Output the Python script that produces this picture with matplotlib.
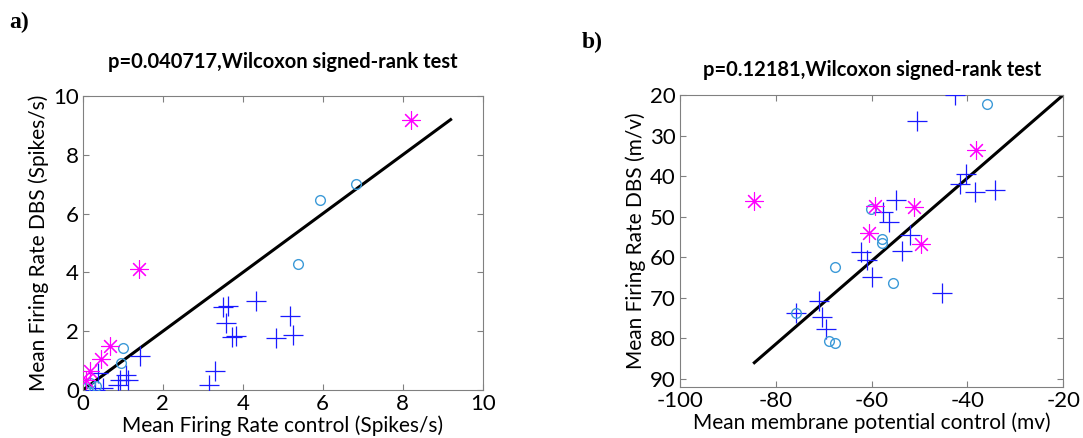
import matplotlib.pyplot as plt

plt.rcParams['font.family'] = ['Lato', 'DejaVu Sans']
plt.rcParams['axes.unicode_minus'] = False

# panel a: mean firing rate, control vs DBS (Spikes/s)
a_star_x = [8.2, 1.4, 0.68, 0.46, 0.17, 0.08]
a_star_y = [9.2, 4.12, 1.5, 1.04, 0.66, 0.34]
a_circ_x = [6.84, 5.93, 5.37, 1.0, 0.94, 0.17, 0.33, 0.04]
a_circ_y = [7.02, 6.45, 4.3, 1.42, 0.93, 0.23, 0.14, 0.08]
a_plus_x = [4.33, 3.51, 3.63, 5.19, 3.58, 3.72, 3.84, 4.84, 5.26, 1.42, 3.3, 3.16,
            0.37, 1.08, 1.12, 0.92, 0.87, 0.5, 0.29]
a_plus_y = [3.03, 2.84, 2.86, 2.53, 2.27, 1.79, 1.85, 1.76, 1.86, 1.16, 0.65, 0.17,
            0.57, 0.51, 0.34, 0.34, 0.17, 0.06, 0.0]
a_fit_x = [0, 9.2]
a_fit_y = [0, 9.2]

# panel b: mean membrane potential, control vs DBS
b_star_x = [-84.5, -59.3, -51.1, -60.6, -49.6, -38.2]
b_star_y = [46.1, 47.4, 47.6, 54.0, 56.8, 33.5]
b_circ_x = [-35.9, -60.2, -57.9, -57.9, -67.7, -55.6, -75.7, -68.9, -67.7]
b_circ_y = [22.1, 48.0, 55.6, 56.4, 62.5, 66.4, 73.8, 80.6, 81.1]
b_plus_x = [-42.6, -50.6, -40.2, -41.6, -38.4, -34.3, -54.9, -57.6, -56.3, -52.0,
            -53.7, -62.3, -61.0, -60.0, -45.4, -71.1, -75.8, -70.4, -69.5]
b_plus_y = [20.0, 26.3, 39.5, 41.9, 44.0, 43.4, 46.0, 48.8, 51.2, 54.5,
            58.4, 58.6, 60.7, 64.8, 68.7, 70.9, 73.8, 74.8, 77.8]
b_fit_x = [-84.5, -20]
b_fit_y = [86.0, 20.0]

STAR = (8, 2, 0)
MAG = '#ff00ff'
BLUE = '#1a1aff'
CYAN = '#3c9ad8'


def draw_panel(ax, sx, sy, cx, cy, px, py, fx, fy):
	ax.plot(fx, fy, color='black', lw=2.2, zorder=2)
	ax.plot(px, py, ls='none', marker='+', ms=14, mew=0.9, color=BLUE, zorder=3)
	ax.plot(cx, cy, ls='none', marker='o', ms=7, mew=1.0, mfc='none', mec=CYAN, zorder=3)
	ax.plot(sx, sy, ls='none', marker=STAR, ms=13, mew=0.8, color=MAG, zorder=4)
	for s in ax.spines.values():
		s.set_color('#808080')
	ax.tick_params(direction='in', top=True, right=True, color='#808080',
		labelsize=16, length=4, pad=3)


fig = plt.figure(figsize=(10.83, 4.38), dpi=100)

ax1 = fig.add_axes([0.0766, 0.1096, 0.369, 0.671])
draw_panel(ax1, a_star_x, a_star_y, a_circ_x, a_circ_y, a_plus_x, a_plus_y, a_fit_x, a_fit_y)
ax1.set_xlim(0, 10)
ax1.set_ylim(0, 10)
ax1.set_xticks([0, 2, 4, 6, 8, 10])
ax1.set_yticks([0, 2, 4, 6, 8, 10])
ax1.set_xlabel('Mean Firing Rate control (Spikes/s)', fontsize=15, labelpad=1)
ax1.set_ylabel('Mean Firing Rate DBS (Spikes/s)', fontsize=15, labelpad=3)
ax1.set_title('p=0.040717,Wilcoxon signed-rank test', fontsize=14.5, fontweight='bold', pad=20)

ax2 = fig.add_axes([0.628, 0.1164, 0.3537, 0.6667])
draw_panel(ax2, b_star_x, b_star_y, b_circ_x, b_circ_y, b_plus_x, b_plus_y, b_fit_x, b_fit_y)
ax2.set_xlim(-100, -20)
ax2.set_ylim(92, 20)
ax2.set_xticks([-100, -80, -60, -40, -20])
ax2.set_yticks([20, 30, 40, 50, 60, 70, 80, 90])
ax2.set_xlabel('Mean membrane potential control (mv)', fontsize=15, labelpad=1)
ax2.set_ylabel('Mean Firing Rate DBS (m/v)', fontsize=15, labelpad=3)
ax2.set_title('p=0.12181,Wilcoxon signed-rank test', fontsize=14.5, fontweight='bold', pad=14)

fig.text(0.009, 0.935, 'a)', fontsize=17, fontweight='bold', family='Liberation Serif')
fig.text(0.537, 0.89, 'b)', fontsize=17, fontweight='bold', family='Liberation Serif')

fig.savefig('out.png', dpi=100)
